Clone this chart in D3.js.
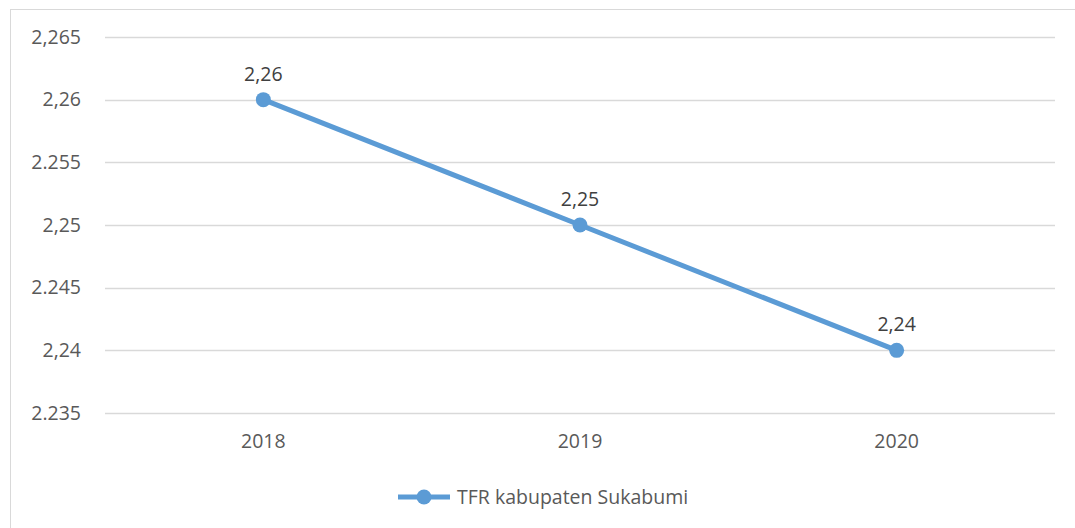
<!DOCTYPE html>
<html><head><meta charset="utf-8">
<script src="https://cdn.jsdelivr.net/npm/d3@7/dist/d3.min.js"></script>
<style>body{margin:0;background:#fff}svg{display:block}text{font-family:"Open Sans","Liberation Sans",sans-serif;fill:#595959}</style>
</head><body><svg id="c" width="1075" height="528"></svg>
<script>
const categories = ["2018", "2019", "2020"];
const values = [2.26, 2.25, 2.24];
const valueLabels = ["2,26", "2,25", "2,24"];
const yTicks = [2.235, 2.24, 2.245, 2.25, 2.255, 2.26, 2.265];
const yTickLabels = ["2.235", "2,24", "2.245", "2,25", "2.255", "2,26", "2,265"];
const seriesName = "TFR kabupaten Sukabumi";

const svg = d3.select("#c");
const W = 1075, H = 528;
const m = {left: 105, right: 1055, top: 37, bottom: 413};
const color = "#5B9BD5";
const FS = 19.5;
const FF = '"Open Sans","Liberation Sans",sans-serif';

// frame
svg.append("rect").attr("x", 10.5).attr("y", 9.5).attr("width", W + 20).attr("height", H + 20)
  .attr("fill", "none").attr("stroke", "#d9d9d9").attr("stroke-width", 1);

const x = d3.scaleBand().domain(categories).range([m.left, m.right]);
const y = d3.scaleLinear().domain([2.235, 2.265]).range([m.bottom, m.top]);

// gridlines
svg.append("g").selectAll("line").data(yTicks).join("line")
  .attr("x1", m.left).attr("x2", m.right)
  .attr("y1", d => Math.round(y(d)) + 0.5).attr("y2", d => Math.round(y(d)) + 0.5)
  .attr("stroke", "#d9d9d9").attr("stroke-width", 1.3);

// y axis labels
const yAxis = d3.axisLeft(y).tickValues(yTicks).tickSize(0).tickPadding(0)
  .tickFormat((d, i) => yTickLabels[i]);
const gy = svg.append("g").attr("transform", `translate(81,0)`).call(yAxis);
gy.select(".domain").remove();
gy.selectAll("text").attr("font-size", FS).style("fill", "#595959").attr("font-family", FF);

// x axis labels
const xAxis = d3.axisBottom(x).tickSize(0).tickPadding(0);
const gx = svg.append("g").attr("transform", `translate(0,${m.bottom + 21})`).call(xAxis);
gx.select(".domain").remove();
gx.selectAll("text").attr("font-size", FS).style("fill", "#595959").attr("font-family", FF);

const cx = d => x(d) + x.bandwidth() / 2;
const pts = categories.map((c, i) => ({c, v: values[i], l: valueLabels[i]}));

svg.append("path").datum(pts)
  .attr("d", d3.line().x(d => cx(d.c)).y(d => y(d.v)))
  .attr("fill", "none").attr("stroke", color).attr("stroke-width", 5).attr("stroke-linecap", "round");

svg.append("g").selectAll("circle").data(pts).join("circle")
  .attr("cx", d => cx(d.c)).attr("cy", d => y(d.v)).attr("r", 7.5).attr("fill", color);

svg.append("g").selectAll("text").data(pts).join("text")
  .attr("x", d => cx(d.c)).attr("y", d => y(d.v) - 19)
  .attr("text-anchor", "middle").attr("font-size", FS).style("fill", "#404040").text(d => d.l);

// legend
const lg = svg.append("g").attr("transform", "translate(0,497)");
lg.append("line").attr("x1", 398).attr("x2", 450).attr("y1", 0).attr("y2", 0)
  .attr("stroke", color).attr("stroke-width", 5);
lg.append("circle").attr("cx", 424).attr("cy", 0).attr("r", 7.5).attr("fill", color);
lg.append("text").attr("x", 457).attr("y", 0).attr("dy", "0.35em").attr("font-size", FS).text(seriesName);
</script></body></html>
